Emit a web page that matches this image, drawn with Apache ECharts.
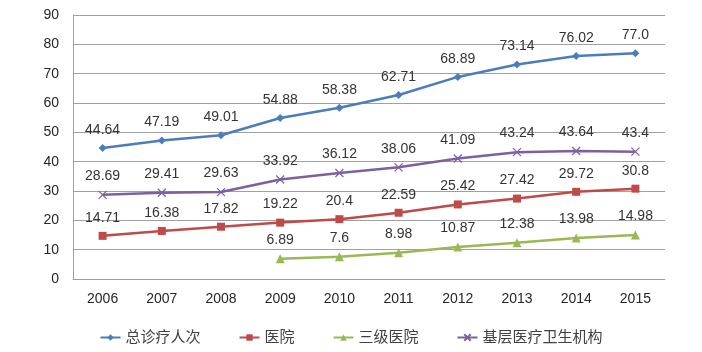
<!DOCTYPE html>
<html><head><meta charset="utf-8">
<script src="https://cdn.jsdelivr.net/npm/echarts@6/dist/echarts.min.js"></script>
<style>html,body{margin:0;padding:0;background:#fff}#c{width:702px;height:352px}</style>
</head><body><div id="c"></div>
<script>
const years = ['2006','2007','2008','2009','2010','2011','2012','2013','2014','2015'];
const seriesNames = ['总诊疗人次','医院','三级医院','基层医疗卫生机构'];
const totalVisits = ['44.64','47.19','49.01','54.88','58.38','62.71','68.89','73.14','76.02','77.0'];
const hospital = ['14.71','16.38','17.82','19.22','20.4','22.59','25.42','27.42','29.72','30.8'];
const tertiary = [null,null,null,'6.89','7.6','8.98','10.87','12.38','13.98','14.98'];
const primary = ['28.69','29.41','29.63','33.92','36.12','38.06','41.09','43.24','43.64','43.4'];
const yTicks = {min:0, max:90, interval:10};

const colors = ['#4A7EBB','#BE4B48','#98B954','#7D60A0'];
const symbols = ['diamond','rect','triangle','path://M0,0L10,10M10,0L0,10'];
const sizes = [8,8,9,8];
const font = '"Liberation Sans","Noto Sans CJK SC",sans-serif';

function mk(i, arr){
  return {
    name: seriesNames[i], type:'line',
    data: arr.map(v => v === null ? null : {value: Number(v), txt: v}),
    symbol: symbols[i], symbolSize: sizes[i],
    showAllSymbol: true,
    lineStyle:{color:colors[i], width:2.5},
    itemStyle:{color:colors[i], borderColor:colors[i], borderWidth: i===3?1.2:0},
    label:{show:true, position:'top', distance:7, color:'#333333', fontSize:14, fontFamily:font,
      formatter: p => p.data.txt},
    animation:false
  };
}
const chart = echarts.init(document.getElementById('c'));
chart.setOption({
  animation:false,
  grid:{left:73, right:37, top:15, bottom:73},
  legend:{bottom:2, left:'center', itemWidth:20, itemHeight:8, itemGap:38,
    textStyle:{fontSize:15, color:'#404040', fontFamily:font},
    data: seriesNames},
  xAxis:{type:'category', data:years, boundaryGap:true,
    axisLine:{lineStyle:{color:'#A0A0A0'}}, axisTick:{show:false},
    axisLabel:{color:'#262626', fontSize:14, margin:13, fontFamily:font}},
  yAxis:{type:'value', min:yTicks.min, max:yTicks.max, interval:yTicks.interval,
    axisLine:{show:true, lineStyle:{color:'#A0A0A0'}}, axisTick:{show:false},
    splitLine:{lineStyle:{color:'#A0A0A0'}},
    axisLabel:{color:'#262626', fontSize:14, margin:14, fontFamily:font}},
  series:[mk(0,totalVisits), mk(1,hospital), mk(2,tertiary), mk(3,primary)]
});
</script></body></html>
